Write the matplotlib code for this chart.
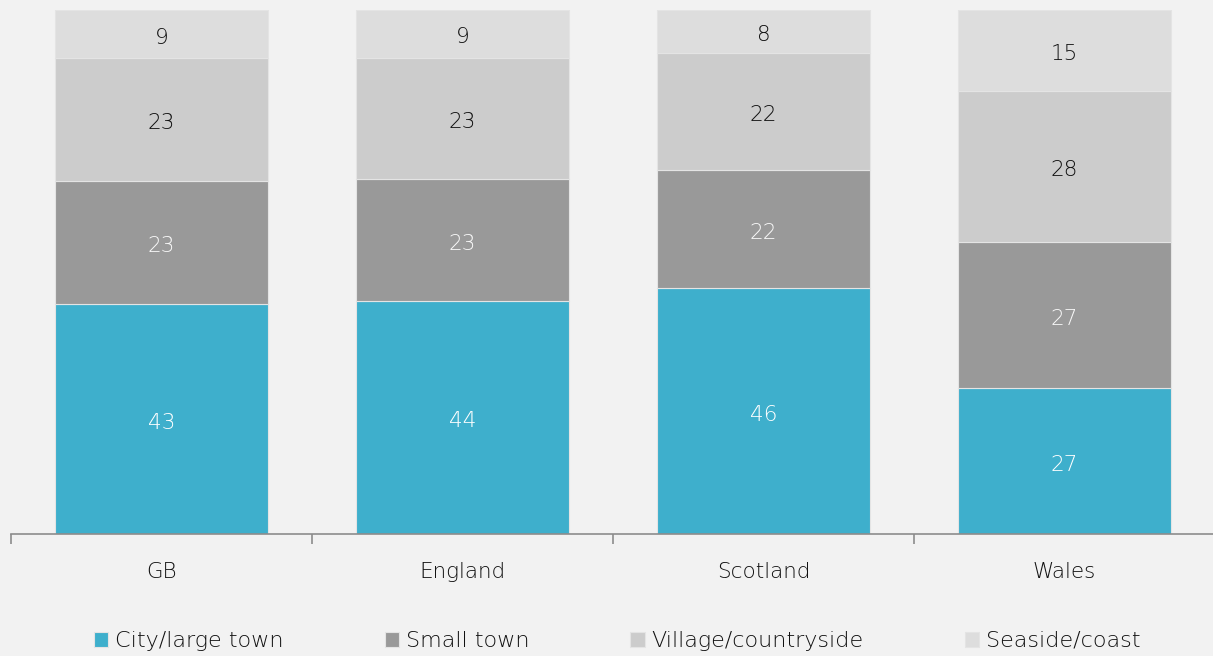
import matplotlib
matplotlib.use("Agg")
import matplotlib.pyplot as plt
import matplotlib.transforms as mtransforms
import numpy as np

categories = ["GB", "England", "Scotland", "Wales"]
series_names = ["City/large town", "Small town", "Village/countryside", "Seaside/coast"]
city = [43, 44, 46, 27]
small_town = [23, 23, 22, 27]
village = [23, 23, 22, 28]
seaside = [9, 9, 8, 15]

colors = ["#3eafcc", "#999999", "#cccccc", "#dddddd"]
label_colors = ["#ffffff", "#f8f8f8", "#111111", "#111111"]

plt.rcParams['font.family'] = ['DejaVu Sans']
plt.rcParams['font.weight'] = 'light'

fig = plt.figure(figsize=(12.13, 6.56), dpi=100)
fig.patch.set_facecolor("#f2f2f2")
ax = fig.add_axes([11/1213, (656-534)/656, 1204/1213, 524/656])
ax.set_facecolor("#f2f2f2")
shift = mtransforms.offset_copy(ax.transData, fig=fig, x=0, y=-3.5, units="dots")

data = np.array([city, small_town, village, seaside], dtype=float)
totals = data.sum(axis=0)
shares = data / totals * 100
x = np.arange(len(categories))
bottom = np.zeros(len(categories))
for i, name in enumerate(series_names):
    bars = ax.bar(x, shares[i], bottom=bottom, width=0.71, color=colors[i],
                  edgecolor="#e4e4e4", linewidth=0.8, label=name)
    for j, b in enumerate(bars):
        ax.text(b.get_x() + b.get_width()/2, bottom[j] + shares[i][j]/2,
                str(int(data[i][j])), ha="center", va="center",
                color=label_colors[i], fontsize=15.5, transform=shift)
    bottom += shares[i]

ax.set_xlim(-0.5, len(categories) - 0.5)
ax.set_ylim(0, 100)
for s in ["top", "right", "left"]:
    ax.spines[s].set_visible(False)
ax.spines["bottom"].set_color("#8c8c8c")
ax.spines["bottom"].set_linewidth(1.2)
ax.set_yticks([])
ax.set_xticks(np.arange(len(categories) + 1) - 0.5)
ax.set_xticklabels([])
ax.tick_params(axis="x", length=7, width=1.2, color="#8c8c8c", direction="out")
for j, c in enumerate(categories):
    ax.text(x[j], -6.5, c, ha="center", va="center", fontsize=15.5, color="#111111",
            transform=shift)

leg = fig.legend(loc="center", bbox_to_anchor=(617/1213, 1 - 641/656), ncol=4,
                 frameon=False, fontsize=16, handlelength=0.65, handleheight=0.65,
                 handletextpad=0.3, columnspacing=4.55)
for t in leg.get_texts():
    t.set_color("#111111")

fig.savefig("out.png", dpi=100, facecolor=fig.get_facecolor())
